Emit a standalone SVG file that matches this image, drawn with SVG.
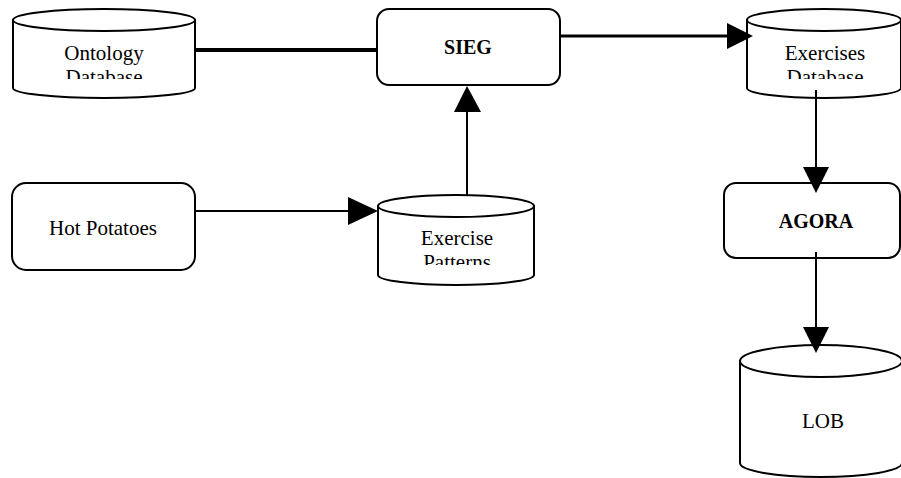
<svg xmlns="http://www.w3.org/2000/svg" width="901" height="478" viewBox="0 0 901 478">
<style>
.shape{fill:#fff;stroke:#000;stroke-width:2}
.t{font-family:"Liberation Serif","Times New Roman",serif;font-size:21px;fill:#000;text-anchor:middle}
.b{font-weight:bold;font-size:20px}
.c{stroke:#000;stroke-width:2;fill:none}
.h{fill:#000;stroke:none}
</style>
<defs>
<clipPath id="cOnt"><rect x="13" y="30" width="182" height="49"/></clipPath>
<clipPath id="cExDb"><rect x="747" y="30" width="154" height="49"/></clipPath>
<clipPath id="cPat"><rect x="378" y="216" width="156" height="49"/></clipPath>
</defs>
<rect width="901" height="478" fill="#fff"/>
<g id="ontology-db">
<path class="shape" d="M13,20 L13,88 A91,10 0 0 0 195,88 L195,20 Z"/>
<ellipse class="shape" cx="104" cy="20" rx="91" ry="11"/>
<g clip-path="url(#cOnt)">
<text class="t" x="104" y="60">Ontology</text>
<text class="t" x="104" y="84">Database</text>
</g>
</g>
<g id="sieg">
<rect class="shape" x="377" y="9" width="183" height="76" rx="12"/>
<text class="t b" x="468" y="54">SIEG</text>
</g>
<g id="exercises-db">
<path class="shape" d="M747,20 L747,88 A77,10 0 0 0 901,88 L901,20 Z"/>
<ellipse class="shape" cx="824" cy="20" rx="77" ry="11"/>
<g clip-path="url(#cExDb)">
<text class="t" x="825" y="60">Exercises</text>
<text class="t" x="825" y="84">Database</text>
</g>
</g>
<g id="hot-potatoes">
<rect class="shape" x="12" y="183" width="183" height="87" rx="14"/>
<text class="t" x="103" y="235">Hot Potatoes</text>
</g>
<g id="exercise-patterns">
<path class="shape" d="M378,206 L378,275 A78,10 0 0 0 534,275 L534,206 Z"/>
<ellipse class="shape" cx="456" cy="206" rx="78" ry="11"/>
<g clip-path="url(#cPat)">
<text class="t" x="457" y="245">Exercise</text>
<text class="t" x="457" y="269">Patterns</text>
</g>
</g>
<g id="agora">
<rect class="shape" x="724" y="183" width="176" height="75" rx="12"/>
<text class="t b" x="816" y="228">AGORA</text>
</g>
<g id="lob">
<path class="shape" d="M740,361 L740,463 A81,14 0 0 0 902,463 L902,361 Z"/>
<ellipse class="shape" cx="821" cy="361" rx="81" ry="16"/>
<text class="t" x="823" y="428">LOB</text>
</g>
<g id="connectors">
<line class="c" x1="195" y1="50" x2="377" y2="50" style="stroke-width:4"/>
<line class="c" x1="560" y1="36" x2="728" y2="36" style="stroke-width:3"/>
<polygon class="h" points="727,23 753,36 727,49"/>
<line class="c" x1="816" y1="90" x2="816" y2="168"/>
<polygon class="h" points="803,167 829,167 816,193"/>
<line class="c" x1="816" y1="252" x2="816" y2="328"/>
<polygon class="h" points="803,327 829,327 816,353"/>
<line class="c" x1="195" y1="211" x2="349" y2="211"/>
<polygon class="h" points="348,197 378,211 348,225"/>
<line class="c" x1="467" y1="195" x2="467" y2="111"/>
<polygon class="h" points="454,112 481,112 467,86"/>
</g>
</svg>
